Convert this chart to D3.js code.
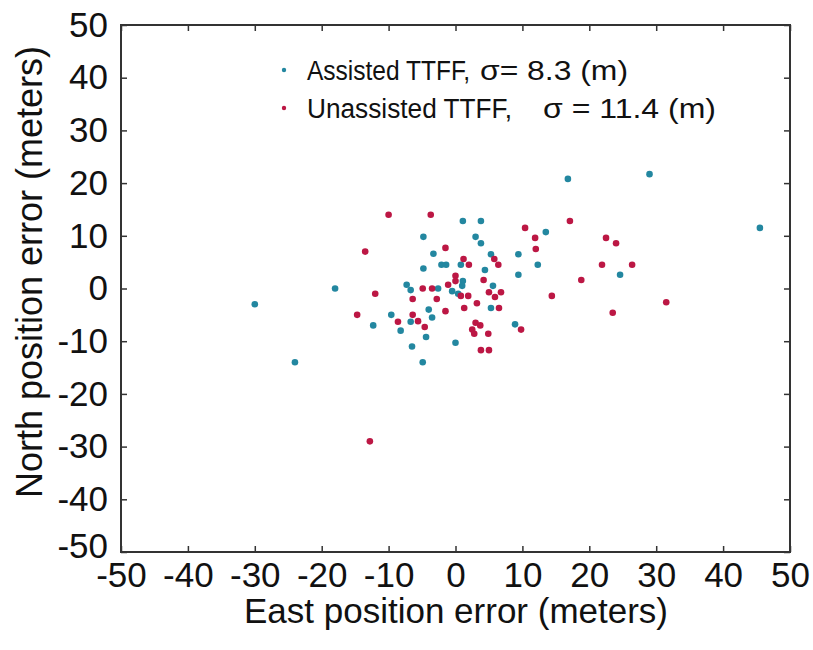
<!DOCTYPE html>
<html>
<head>
<meta charset="utf-8">
<script src="https://cdn.jsdelivr.net/npm/d3@7"></script>
<style>
  body { margin: 0; background: #fff; }
  text { font-family: "Liberation Sans", Arial, sans-serif; fill: #111; }
</style>
</head>
<body>
<svg id="chart" width="813" height="650"></svg>
<script>
// values: [east, north] in meters
const assistedPoints = [
  [-30, -3], [-24, -14], [-18, 0], [-12.3, -7], [-9.6, -5], [-8.2, -8],
  [-7.3, 0.7], [-6.7, -0.3], [-6.7, -6.3], [-6.5, -11], [-4.9, -14], [-4.4, -9.2],
  [-4.8, 9.8], [-4.8, 3.8], [-3.3, 6.6], [-2.1, 4.5], [-1.4, 4.5], [-2.6, 0],
  [-4, -4], [-3.5, -5.5], [-0.5, -0.5], [0.4, -1], [1.1, 12.8], [3.8, 12.8],
  [3, 9.8], [3.8, 8.6], [0.8, 4.5], [5.3, 6.5], [4.4, 3.5], [1.1, 1.4],
  [1, 0.5], [5.6, 0.5], [5.3, -3.7], [8.9, -6.8], [0, -10.3], [9.4, 6.5],
  [9.4, 2.6], [12.3, 4.5], [13.5, 10.7], [16.8, 20.8], [29, 21.7], [45.5, 11.5],
  [24.6, 2.6]
];
const unassistedPoints = [
  [-10, 14], [-3.7, 14], [-13.5, 7], [-1.5, 7.7], [-12, -1], [-4.9, 0],
  [-3.5, 0], [-1.1, 0.7], [-6.4, -2], [-2.8, -2], [-1.5, -4.3], [-14.7, -5],
  [-8.6, -6.3], [-6.4, -5], [-5.6, -6.2], [-4.6, -7.3], [-12.8, -29], [10.4, 11.5],
  [11.9, 9.6], [12, 7.5], [17.1, 12.8], [22.5, 9.6], [24, 8.6], [1.2, 5.6],
  [2, 4.5], [5.8, 5.6], [6.4, 4.5], [21.9, 4.5], [26.4, 4.5], [0, 2.4],
  [0, 1.4], [4.2, 1.6], [18.8, 1.6], [0.8, -1.4], [1.9, -1.4], [5, -0.7],
  [6.8, -0.7], [5.9, -1.6], [14.4, -1.4], [31.5, -2.6], [3.2, -2.8], [1.3, -3.7],
  [6.5, -3.7], [23.5, -4.6], [3, -6.5], [3.7, -7], [2.5, -7.8], [2.8, -8.6],
  [4.9, -8.6], [9.8, -7.8], [3.8, -11.7], [5, -11.7]
];
const xTicks = [-50, -40, -30, -20, -10, 0, 10, 20, 30, 40, 50];
const yTicks = [-50, -40, -30, -20, -10, 0, 10, 20, 30, 40, 50];
const seriesNames = ["Assisted TTFF,", "Unassisted TTFF,"];
const seriesSigma = ["σ= 8.3 (m)", "σ = 11.4 (m)"];
const seriesColors = ["#2387a0", "#bc1744"];

const svg = d3.select("#chart");
const plotLeft = 121, plotRight = 790, plotTop = 25, plotBottom = 552;

const x = d3.scaleLinear().domain([-50, 50]).range([plotLeft, plotRight]);
const y = d3.scaleLinear().domain([-50, 50]).range([plotBottom, plotTop]);

// plain hyphen for negatives, like the original
const fmt = d => String(d);

// ticks on all four sides, pointing in
const axisColor = "#333";
function styleAxis(g) {
  g.select(".domain").remove();
  g.selectAll("line").attr("stroke", axisColor).attr("stroke-width", 1.5);
  g.selectAll("text").style("font-size", "35px").attr("fill", "#111");
}
svg.append("g").attr("transform", `translate(0,${plotBottom})`)
  .call(d3.axisBottom(x).tickValues(xTicks).tickSize(-6).tickFormat(fmt))
  .call(styleAxis)
  .selectAll("text").attr("dy", "0.71em").attr("y", 10);
svg.append("g").attr("transform", `translate(0,${plotTop})`)
  .call(d3.axisTop(x).tickValues(xTicks).tickSize(-6).tickFormat(""))
  .call(styleAxis);
svg.append("g").attr("transform", `translate(${plotLeft},0)`)
  .call(d3.axisLeft(y).tickValues(yTicks).tickSize(-6).tickPadding(13).tickFormat(fmt))
  .call(styleAxis)
  .selectAll("text").filter(d => d === -50).attr("y", -6); // bottom label sits a bit higher
svg.append("g").attr("transform", `translate(${plotRight},0)`)
  .call(d3.axisRight(y).tickValues(yTicks).tickSize(-6).tickFormat(""))
  .call(styleAxis);

// frame
svg.append("rect")
  .attr("x", plotLeft).attr("y", plotTop)
  .attr("width", plotRight - plotLeft).attr("height", plotBottom - plotTop)
  .attr("fill", "none").attr("stroke", axisColor).attr("stroke-width", 2);

// points
[assistedPoints, unassistedPoints].forEach((pts, i) => {
  svg.append("g").selectAll("circle")
    .data(pts)
    .join("circle")
    .attr("cx", d => x(d[0]))
    .attr("cy", d => y(d[1]))
    .attr("r", 3.3)
    .attr("fill", seriesColors[i]);
});

// legend (original font is narrow, so squeeze to its widths)
const legend = svg.append("g");
const nameWidth = [163, 205];
const sigmaX = [480, 543];
const sigmaWidth = [148, 173];
seriesNames.forEach((name, i) => {
  const ly = 70 + i * 38;
  legend.append("circle").attr("cx", 284).attr("cy", ly).attr("r", 2.2).attr("fill", seriesColors[i]);
  legend.append("text").attr("x", 307).attr("y", ly).attr("dy", "0.36em")
    .style("font-size", "27px")
    .attr("textLength", nameWidth[i]).attr("lengthAdjust", "spacingAndGlyphs")
    .text(name);
  legend.append("text").attr("x", sigmaX[i]).attr("y", ly).attr("dy", "0.36em")
    .style("font-size", "27px")
    .attr("textLength", sigmaWidth[i]).attr("lengthAdjust", "spacingAndGlyphs")
    .text(seriesSigma[i]);
});

// axis titles
svg.append("text")
  .attr("x", 456).attr("y", 623)
  .attr("text-anchor", "middle").style("font-size", "35px")
  .text("East position error (meters)");
svg.append("text")
  .attr("transform", `translate(42,272) rotate(-90)`)
  .attr("text-anchor", "middle").style("font-size", "36px")
  .text("North position error (meters)");
</script>
</body>
</html>
